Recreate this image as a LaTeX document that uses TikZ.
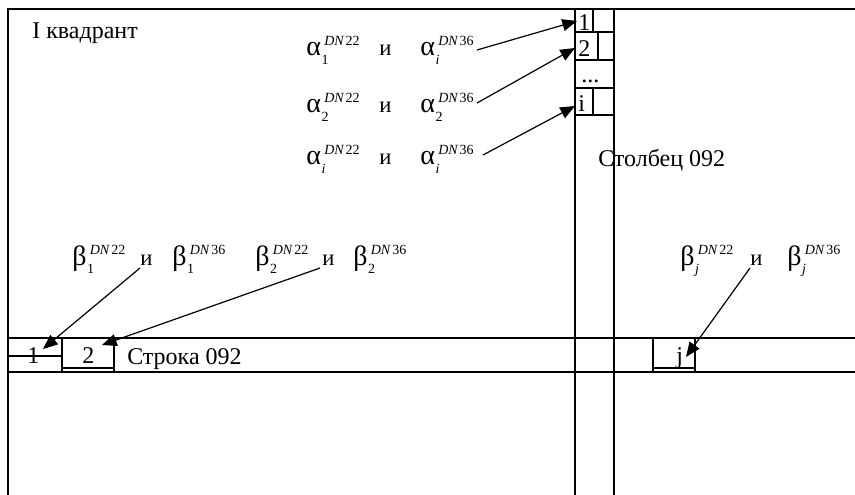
\documentclass[tikz,border=0pt]{standalone}
\usepackage{fontspec}
\setmainfont{Liberation Serif}
\usetikzlibrary{arrows.meta}
\newcommand\fmain{\fontsize{18}{20}\selectfont}
\newcommand\fsym{\fontsize{21}{22}\selectfont}
\newcommand\fsm{\fontsize{10.5}{12}\selectfont}
\newcommand\fand{\fontsize{17}{19}\selectfont}
% symbol with subscript and superscript
\newcommand\gsym[3]{{\fsym #1}\kern0.5pt\makebox[0pt][l]{\raisebox{-6.5pt}{\fsm #2}}\kern2pt\raisebox{8pt}{\fsm #3}}
\newcommand\dn[1]{\textit{DN}\kern1pt #1}
\begin{document}
\begin{tikzpicture}[x=0.75pt,y=-0.75pt,
  frame/.style={line width=0.9pt},
  arr/.style={line width=0.9pt,-{Triangle[length=11pt,width=9pt]}},
  lbl/.style={anchor=base west,inner sep=0pt,font=\fmain},
  sym/.style={anchor=base west,inner sep=0pt}]
\useasboundingbox (0,0) rectangle (855,495);
% frame
\draw[frame] (855,9) -- (8,9) -- (8,495);
% column
\draw[frame] (575,9) -- (575,495);
\draw[frame] (614,9) -- (614,495);
\foreach \yy in {32,60,88,115} \draw[frame] (575,\yy) -- (614,\yy);
\draw[frame] (593,9) -- (593,32);
\draw[frame] (598,32) -- (598,60);
\draw[frame] (593,88) -- (593,115);
% row
\draw[frame] (8,338) -- (855,338);
\draw[frame] (8,372) -- (855,372);
\draw[frame] (8,356) -- (62,356);
\draw[frame] (62,338) -- (62,372);
\draw[frame] (114,338) -- (114,372);
\draw[frame] (62,368) -- (114,368);
\draw[frame] (653,338) -- (653,372);
\draw[frame] (695,338) -- (695,372);
\draw[frame] (653,368) -- (695,368);
% texts
\node[lbl] (q1) at (32,39) {I квадрант};
\node[lbl] (col) at (598,167) {Столбец 092};
\node[lbl] (row) at (127,364) {Строка 092};
% column box labels
\node[lbl] (c1) at (578,31) {1};
\node[lbl] (c2) at (578,57) {2};
\node[lbl] (cd) at (581,83) {...};
\node[lbl] (ci) at (578,112) {i};
% row box labels
\node[lbl] (r1) at (27,363) {1};
\node[lbl] (r2) at (82,363) {2};
\node[lbl] (rj) at (676,363) {j};
% alpha rows
\node[sym] (a11) at (306,56) {\gsym{α}{1}{\dn{22}}};
\node[sym] (a1and) at (379,56) {\fand и};
\node[sym] (a12) at (420,56) {\gsym{α}{\textit{i}}{\dn{36}}};
\node[sym] (a21) at (306,113) {\gsym{α}{2}{\dn{22}}};
\node[sym] (a2and) at (379,113) {\fand и};
\node[sym] (a22) at (420,113) {\gsym{α}{2}{\dn{36}}};
\node[sym] (a31) at (306,165) {\gsym{α}{\textit{i}}{\dn{22}}};
\node[sym] (a3and) at (379,165) {\fand и};
\node[sym] (a32) at (420,165) {\gsym{α}{\textit{i}}{\dn{36}}};
% beta rows
\node[sym] (b11) at (72,265) {\gsym{β}{1}{\dn{22}}};
\node[sym] (b1and) at (140,265) {\fand и};
\node[sym] (b12) at (172,265) {\gsym{β}{1}{\dn{36}}};
\node[sym] (b21) at (255,265) {\gsym{β}{2}{\dn{22}}};
\node[sym] (b2and) at (322,265) {\fand и};
\node[sym] (b22) at (353,265) {\gsym{β}{2}{\dn{36}}};
\node[sym] (bj1) at (680,265) {\gsym{β}{\textit{j}}{\dn{22}}};
\node[sym] (bjand) at (750,265) {\fand и};
\node[sym] (bj2) at (787,265) {\gsym{β}{\textit{j}}{\dn{36}}};
% arrow end points
\coordinate (s1) at (477,50);  \coordinate (t1) at (577,21);
\coordinate (s2) at (477,103); \coordinate (t2) at (575,48);
\coordinate (s3) at (483,155); \coordinate (t3) at (575,106);
\coordinate (s4) at (140,268); \coordinate (t4) at (43,349);
\coordinate (s5) at (320,268); \coordinate (t5) at (102,345);
\coordinate (s6) at (750,268); \coordinate (t6) at (686,357);
\draw[arr] (s1) -- (t1);
\draw[arr] (s2) -- (t2);
\draw[arr] (s3) -- (t3);
\draw[arr] (s4) -- (t4);
\draw[arr] (s5) -- (t5);
\draw[arr] (s6) -- (t6);
\end{tikzpicture}
\end{document}
